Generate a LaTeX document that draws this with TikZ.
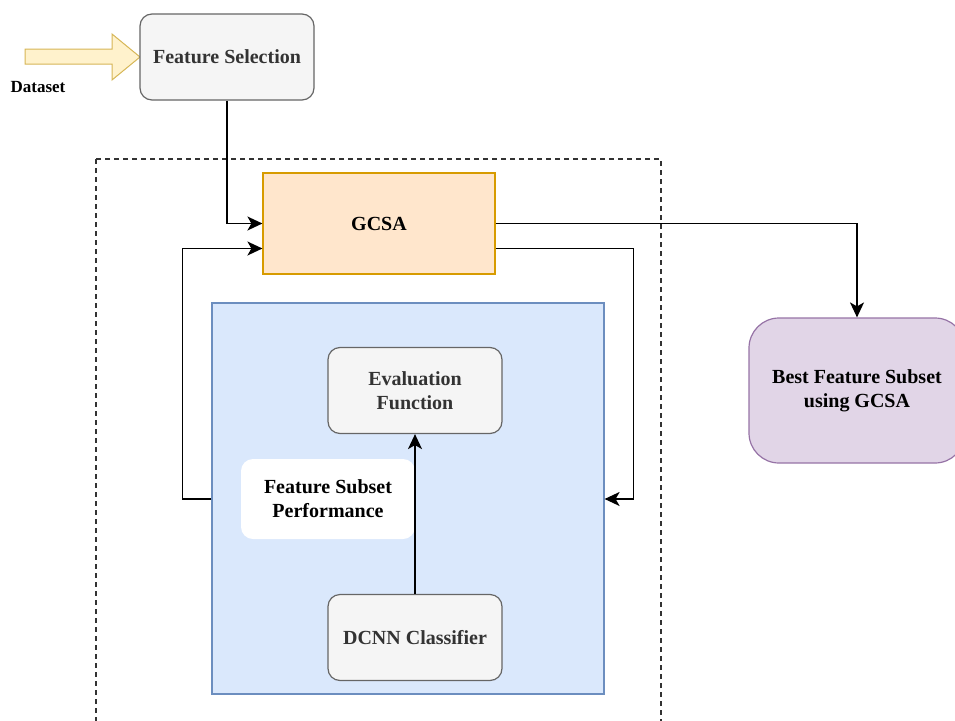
\documentclass[tikz,border=0pt]{standalone}
\usepackage{fontspec}
\setmainfont{Liberation Serif}
\usetikzlibrary{arrows.meta}

\definecolor{grayfill}{HTML}{F5F5F5}
\definecolor{graydraw}{HTML}{666666}
\definecolor{graytext}{HTML}{333333}
\definecolor{orangefill}{HTML}{FFE6CC}
\definecolor{orangedraw}{HTML}{D79B00}
\definecolor{bluefill}{HTML}{DAE8FC}
\definecolor{bluedraw}{HTML}{6C8EBF}
\definecolor{purplefill}{HTML}{E1D5E7}
\definecolor{purpledraw}{HTML}{9673A6}
\definecolor{yellowfill}{HTML}{FFF2CC}
\definecolor{yellowdraw}{HTML}{D6B656}

\tikzset{
  label20/.style={font=\fontsize{20}{24}\selectfont\bfseries, align=center},
  graybox/.style={label20, draw=graydraw, fill=grayfill, text=graytext,
    rounded corners=12pt, line width=1.2pt, minimum width=174pt, minimum height=86pt},
  conn/.style={line width=1.5pt, -{Stealth[length=15pt,width=14pt,inset=4pt]}}
}

\begin{document}
\begin{tikzpicture}[x=1pt, y=-1pt]
\useasboundingbox (0,0) rectangle (955,720);

% Input
\draw[yellowdraw, fill=yellowfill, line width=1pt]
  (25,49) -- (112,49) -- (112,34) -- (140,57) -- (112,80) -- (112,64) -- (25,64) -- cycle;
\node[font=\fontsize{17}{20}\selectfont\bfseries] (dataset) at (38,87) {Dataset};
\node[graybox] (fs) at (227,57) {Feature Selection};

% Search loop
\draw[line width=1.3pt, dash pattern=on 5pt off 4pt, black!80] (96,159) rectangle (661,735);
\node[label20, draw=orangedraw, fill=orangefill, line width=1.2pt,
  minimum width=232pt, minimum height=101pt] (gcsa) at (379,223.5) {GCSA};

% Fitness
\node[draw=bluedraw, fill=bluefill, line width=1.2pt,
  minimum width=392pt, minimum height=391pt] (fit) at (408,498.5) {};
\node[label20, fill=white, rounded corners=12pt,
  minimum width=174pt, minimum height=80pt] (perf) at (328,499) {Feature Subset\\Performance};
\node[graybox] (eval) at (415,390.5) {Evaluation\\Function};
\node[graybox] (dcnn) at (415,637.5) {DCNN Classifier};

% Output
\node[label20, draw=purpledraw, fill=purplefill, line width=1.2pt, rounded corners=30pt,
  minimum width=216pt, minimum height=145pt] (best) at (857,390.5) {Best Feature Subset\\using GCSA};

% Connectors
\coordinate (gin) at ([yshift=-25pt]gcsa.west);
\coordinate (gout) at ([yshift=-25pt]gcsa.east);
\draw[conn] (fs.south) |- (gcsa.west);
\draw[conn] (dcnn.north) -- (eval.south);
\draw[conn] (fit.west |- perf) -- ++(-29,0) |- (gin);
\draw[conn] (gout) -| ([xshift=29pt]fit.east |- perf) -- (fit.east |- perf);
\draw[conn] (gcsa.east) -| (best.north);

\end{tikzpicture}
\end{document}
